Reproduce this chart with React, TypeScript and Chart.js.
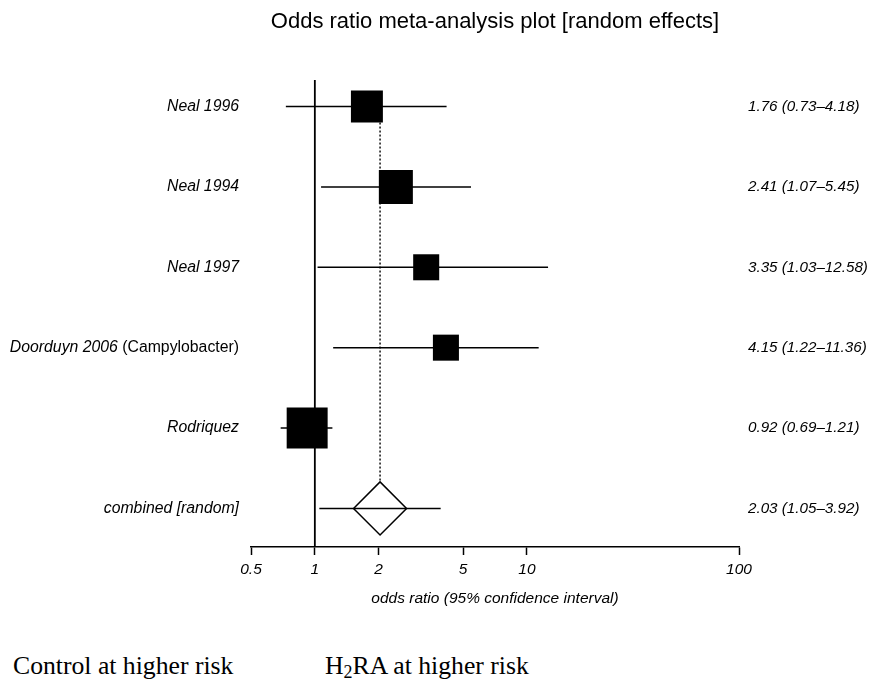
import React, { useEffect, useRef } from "react";
import { Chart, registerables } from "chart.js";

Chart.register(...registerables);

// ---- data ----
const studies = ["Neal 1996", "Neal 1994", "Neal 1997", "Doorduyn 2006", "Rodriquez"];
const studyNotes = ["", "", "", "(Campylobacter)", ""];
const oddsRatios = [1.76, 2.41, 3.35, 4.15, 0.92];
const ciLower = [0.73, 1.07, 1.03, 1.22, 0.69];
const ciUpper = [4.18, 5.45, 12.58, 11.36, 1.21];
const studyWeights = [19.6, 22.2, 13.0, 13.0, 32.2];
const combinedLabel = "combined [random]";
const combinedOR = [2.03];
const combinedLower = [1.05];
const combinedUpper = [3.92];
const xTicks = [0.5, 1, 2, 5, 10, 100];
const chartTitle = "Odds ratio meta-analysis plot [random effects]";
const xAxisTitle = "odds ratio (95% confidence interval)";

const FONT = '"Liberation Sans", Arial, Helvetica, sans-serif';
const fmt = (v: number) => v.toFixed(2);

export default function App() {
  const ref = useRef<HTMLCanvasElement | null>(null);

  useEffect(() => {
    if (!ref.current) return;
    const allOR = [...oddsRatios, ...combinedOR];
    const allLo = [...ciLower, ...combinedLower];
    const allHi = [...ciUpper, ...combinedUpper];
    const combinedRow = studies.length;
    const yMin = -0.33;
    const yMax = 5.48;

    const whiskers = allOR.map((_, i) => ({
      data: [
        { x: allLo[i], y: i },
        { x: allHi[i], y: i },
      ],
      showLine: true,
      borderColor: "#000",
      borderWidth: 1.5,
      pointRadius: 0,
      order: 5,
    }));

    const labelsPlugin = {
      id: "forestLabels",
      afterDraw(chart: any) {
        const { ctx, chartArea, scales } = chart;
        const ys = scales.y;
        ctx.save();
        ctx.fillStyle = "#000";
        // title
        ctx.font = `22px ${FONT}`;
        ctx.textAlign = "center";
        ctx.textBaseline = "middle";
        ctx.fillText(chartTitle, (chartArea.left + chartArea.right) / 2, 22);
        // left labels
        const rightEdge = chartArea.left - 12;
        const names = [...studies, combinedLabel];
        const notes = [...studyNotes, ""];
        names.forEach((name, i) => {
          const y = ys.getPixelForValue(i);
          ctx.textAlign = "right";
          let x = rightEdge;
          if (notes[i]) {
            ctx.font = `15.8px ${FONT}`;
            ctx.fillText(notes[i], x, y);
            x -= ctx.measureText(" " + notes[i]).width;
          }
          ctx.font = `italic 15.8px ${FONT}`;
          ctx.fillText(name, x, y);
        });
        // right labels
        ctx.textAlign = "left";
        ctx.font = `italic 15.2px ${FONT}`;
        allOR.forEach((v, i) => {
          const y = ys.getPixelForValue(i);
          ctx.fillText(`${fmt(v)} (${fmt(allLo[i])}\u2013${fmt(allHi[i])})`, chartArea.right + 9, y);
        });
        ctx.restore();
      },
    };

    const chart = new Chart(ref.current, {
      type: "scatter",
      data: {
        datasets: [
          {
            data: [
              { x: 1, y: yMin },
              { x: 1, y: yMax },
            ],
            showLine: true,
            borderColor: "#000",
            borderWidth: 1.8,
            pointRadius: 0,
            order: 7,
          },
          {
            data: [
              { x: combinedOR[0], y: 0 },
              { x: combinedOR[0], y: combinedRow },
            ],
            showLine: true,
            borderColor: "#000",
            borderWidth: 1.4,
            borderDash: [2, 2],
            pointRadius: 0,
            order: 10,
          },
          {
            data: combinedOR.map((v) => ({ x: v, y: combinedRow })),
            pointStyle: "rectRot",
            pointRadius: 26.5,
            backgroundColor: "#fff",
            borderColor: "#000",
            borderWidth: 1.5,
            order: 8,
          },
          ...whiskers,
          {
            data: oddsRatios.map((v, i) => ({ x: v, y: i })),
            pointStyle: "rect",
            pointRadius: studyWeights.map((w) => (Math.sqrt(w) * 7.22) / Math.SQRT2),
            backgroundColor: "#000",
            borderColor: "#000",
            borderWidth: 0,
            order: 1,
          },
        ] as any,
      },
      options: {
        animation: false,
        responsive: false,
        events: [],
        layout: { padding: { left: 251, right: 138, top: 80, bottom: 11 } },
        plugins: {
          legend: { display: false },
          tooltip: { enabled: false },
          title: { display: false },
        },
        scales: {
          x: {
            type: "logarithmic",
            position: "bottom",
            min: 0.5,
            max: 100,
            afterBuildTicks: (scale: any) => {
              scale.ticks = xTicks.map((v) => ({ value: v }));
            },
            afterFit: (scale: any) => {
              scale.height = 62;
            },
            ticks: {
              callback: (v: any) => String(v),
              autoSkip: false,
              maxRotation: 0,
              color: "#000",
              padding: 5,
              font: { family: FONT, size: 15.5, style: "italic" },
            },
            grid: {
              display: true,
              drawOnChartArea: false,
              drawTicks: true,
              tickLength: 8,
              tickWidth: 1.5,
              tickColor: "#000",
            },
            border: { display: true, color: "#000", width: 1.5 },
            title: {
              display: true,
              text: xAxisTitle,
              color: "#000",
              font: { family: FONT, size: 15.5, style: "italic" },
              padding: { top: 4, bottom: 1 },
            },
          },
          y: {
            type: "linear",
            min: yMin,
            max: yMax,
            reverse: true,
            display: false,
          },
        },
      },
      plugins: [labelsPlugin],
    } as any);
    return () => chart.destroy();
  }, []);

  const serif = '"Liberation Serif", "Times New Roman", serif';
  return (
    <div style={{ position: "absolute", left: 0, top: 0, width: 877, height: 686, background: "#fff" }}>
      <canvas ref={ref} width={877} height={620} style={{ position: "absolute", left: 0, top: 0 }} />
      <div style={{ position: "absolute", left: 13, top: 651, font: `25.7px ${serif}`, whiteSpace: "nowrap", lineHeight: "normal" }}>
        Control at higher risk
      </div>
      <div style={{ position: "absolute", left: 325, top: 651, font: `25.7px ${serif}`, whiteSpace: "nowrap", lineHeight: "normal" }}>
        H<sub style={{ fontSize: "0.7em", verticalAlign: "-0.25em", lineHeight: 0 }}>2</sub>RA at higher risk
      </div>
    </div>
  );
}
